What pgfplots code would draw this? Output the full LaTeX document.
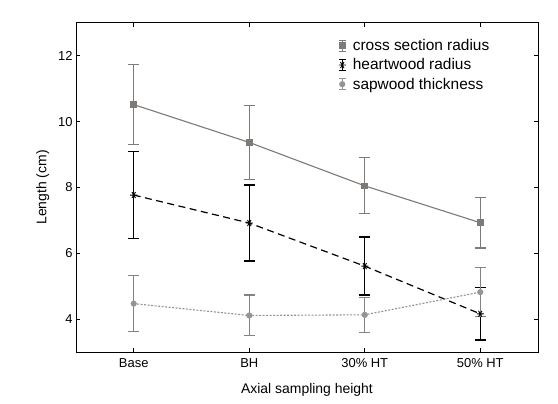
\documentclass[border=0pt]{standalone}
\usepackage{pgfplots}
\pgfplotsset{compat=1.18}
\usepackage{pgfplotstable}
\usepackage{fontspec}
\setmainfont{Liberation Sans}

\definecolor{crossc}{RGB}{125,122,120}
\definecolor{sapc}{RGB}{150,148,146}
\definecolor{saperr}{RGB}{135,130,126}

\pgfplotstableread{
x y err
0 10.52 1.22
1 9.37 1.13
2 8.05 0.85
3 6.93 0.77
}\crossdata
\pgfplotstableread{
x y err
0 7.77 1.32
1 6.92 1.15
2 5.61 0.88
3 4.16 0.80
}\heartdata
\pgfplotstableread{
x y err
0 4.47 0.85
1 4.11 0.62
2 4.13 0.53
3 4.82 0.75
}\sapdata

\begin{document}
\begin{tikzpicture}[x=1bp,y=1bp]
\begin{axis}[
  scale only axis,
  width=462bp, height=329bp,
  xmin=-0.5, xmax=3.5, ymin=3, ymax=13,
  xtick={0,1,2,3},
  xticklabels={Base,BH,30\% HT,50\% HT},
  ytick={4,6,8,10,12},
  tick align=inside,
  major tick length=4bp,
  tick style={black, line width=0.8bp},
  axis line style={black, line width=1bp},
  /pgf/number format/assume math mode=true,
  tick label style={font=\fontsize{13}{15}\selectfont},
  xticklabel style={yshift=-3bp},
  label style={font=\fontsize{14}{16}\selectfont},
  xlabel={Axial sampling height},
  ylabel={Length (cm)},
  xlabel style={yshift=-9bp},
  ylabel style={yshift=2bp},
  legend style={at={(0.567,0.955)}, anchor=north west, draw=none, fill=none,
    font=\fontsize{15.5}{17}\selectfont, row sep=3.5bp, inner sep=0pt,
    nodes={inner sep=1.5bp}},
  legend cell align=left,
  legend image code/.code={
    \draw[#1,solid,mark=none] (0bp,5.5bp)--(7bp,5.5bp) (3.5bp,5.5bp)--(3.5bp,-5.5bp) (0bp,-5.5bp)--(7bp,-5.5bp);
    \draw[#1,solid,draw=none] plot coordinates {(3.5bp,0bp)};
    \path (12bp,0bp);
  },
  error bars/y dir=both,
  error bars/y explicit,
]
\addplot[color=crossc, line width=1.1bp, mark=square*, mark size=2.8bp,
  mark options={solid, fill=crossc, draw=crossc},
  error bars/.cd, error bar style={solid, line width=1.2bp, color=crossc},
  error mark options={rotate=90, mark size=5.5bp, line width=1.2bp, color=crossc}]
  table[x=x, y=y, y error=err] {\crossdata};
\addlegendentry{cross section radius}
\addplot[color=black, line width=1.2bp, dash pattern=on 7bp off 4.5bp, mark=asterisk, mark size=3.5bp,
  mark options={solid, line width=0.9bp, rotate=90},
  error bars/.cd, error bar style={solid, line width=1.4bp, color=black},
  error mark options={rotate=90, mark size=5.5bp, line width=1.4bp, color=black}]
  table[x=x, y=y, y error=err] {\heartdata};
\addlegendentry{heartwood radius}
\addplot[color=sapc, line width=1.1bp, dash pattern=on 2bp off 1.5bp, mark=*, mark size=2.5bp,
  mark options={solid, fill=sapc, draw=sapc},
  error bars/.cd, error bar style={solid, line width=1.2bp, color=saperr},
  error mark options={rotate=90, mark size=5.5bp, line width=1.2bp, color=saperr}]
  table[x=x, y=y, y error=err] {\sapdata};
\addlegendentry{sapwood thickness}
\end{axis}
\pgfresetboundingbox
\path[use as bounding box] (-76bp,-52bp) rectangle (482bp,352bp);
\end{tikzpicture}
\end{document}
